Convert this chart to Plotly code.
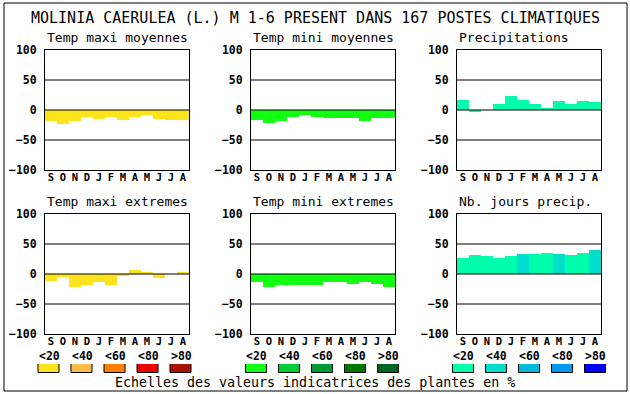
import plotly.graph_objects as go

# ---------------- data ----------------
MONTHS = ["S", "O", "N", "D", "J", "F", "M", "A", "M", "J", "J", "A"]
TITLE = "MOLINIA CAERULEA (L.) M 1-6 PRESENT DANS 167 POSTES CLIMATIQUES"
PANEL_TITLES = ["Temp maxi moyennes", "Temp mini moyennes", "Precipitations",
                "Temp maxi extremes", "Temp mini extremes", "Nb. jours precip."]
tmax_moy = [-18, -23, -18, -12, -15, -12, -16, -12, -9, -15, -16, -16]
tmin_moy = [-16, -21, -18, -11, -8, -11, -13, -14, -13, -18, -14, -14]
precip = [17, -3, 0, 10, 23, 17, 10, 3, 15, 10, 15, 13]
tmax_ext = [-11, -5, -21, -18, -13, -18, -2, 7, 2, -6, 0, 2]
tmin_ext = [-14, -21, -18, -18, -18, -18, -13, -14, -16, -14, -16, -21]
jours_precip = [27, 32, 30, 27, 30, 33, 33, 35, 33, 32, 35, 40]
# class (0: <20, 1: <40, ...) of each month bar
cls_tmax_moy = [0] * 12
cls_tmin_moy = [0] * 12
cls_precip = [0] * 12
cls_tmax_ext = [0] * 12
cls_tmin_ext = [0] * 12
cls_jours_precip = [0, 0, 0, 0, 0, 1, 0, 0, 1, 0, 0, 1]

LEGEND_LABELS = ["<20", "<40", "<60", "<80", ">80"]
PAL_TMAX = ["#FCE31B", "#FFBB4B", "#FF7F00", "#EE0000", "#AA1100"]
PAL_TMIN = ["#11FF11", "#00CC33", "#009933", "#007700", "#006622"]
PAL_PREC = ["#00FFAA", "#00DDCC", "#00BBDD", "#0099EE", "#0000FF"]
Y_TICKS = [-100, -50, 0, 50, 100]
GRID_VALUES = [-50, 0, 50]
FOOTER = "Echelles des valeurs indicatrices des plantes en %"

panels = [
    (tmax_moy, cls_tmax_moy, PAL_TMAX),
    (tmin_moy, cls_tmin_moy, PAL_TMIN),
    (precip, cls_precip, PAL_PREC),
    (tmax_ext, cls_tmax_ext, PAL_TMAX),
    (tmin_ext, cls_tmin_ext, PAL_TMIN),
    (jours_precip, cls_jours_precip, PAL_PREC),
]
palettes = [PAL_TMAX, PAL_TMIN, PAL_PREC]

# ---------------- layout geometry (pixels) ----------------
W, H = 630, 394
COLS = [(45, 189), (251, 395), (457, 601)]
ROWS = [(50, 170), (214, 334)]
LEG_X = [(32.5, 197.5), (240, 405), (447, 612)]
LEG_Y = (364, 373)
LEG_LABEL_Y = 356


def fx(p):
    return p / W


def fy(p):
    return 1 - p / H


MONO = "DejaVu Sans Mono"
BOLD = dict(family=MONO, size=11.5, color="black", weight="bold")
fig = go.Figure()
layout = dict(width=W, height=H, margin=dict(l=0, r=0, t=0, b=0, pad=0, autoexpand=False),
              paper_bgcolor="white", plot_bgcolor="white",
              bargap=0, showlegend=False, shapes=[], annotations=[])

for i, (vals, cls, pal) in enumerate(panels):
    n = i + 1
    r, c = divmod(i, 3)
    xa = "x" if n == 1 else f"x{n}"
    ya = "y" if n == 1 else f"y{n}"
    fig.add_trace(go.Bar(x=list(range(12)), y=vals, width=1,
                         marker=dict(color=[pal[k] for k in cls], line=dict(width=0)),
                         xaxis=xa, yaxis=ya, hoverinfo="skip"))
    layout[f"xaxis{'' if n == 1 else n}"] = dict(
        domain=[fx(COLS[c][0]), fx(COLS[c][1])], anchor=ya, range=[-0.5, 11.5],
        tickvals=list(range(12)), ticktext=MONTHS, showgrid=False, zeroline=False,
        showline=True, mirror=True, linecolor="black", linewidth=1,
        ticks="", ticklen=0, automargin=False,
        tickfont=dict(family=MONO, size=10.5, color="black", weight="bold"),
        ticklabelstandoff=-3, fixedrange=True)
    layout[f"yaxis{'' if n == 1 else n}"] = dict(
        domain=[fy(ROWS[r][1]), fy(ROWS[r][0])], anchor=xa, range=[-100, 100],
        tickvals=Y_TICKS, showgrid=False, zeroline=False, automargin=False,
        showline=True, mirror=True, linecolor="black", linewidth=1, ticks="",
        tickfont=BOLD, ticklabelstandoff=5, fixedrange=True)
    for v in GRID_VALUES:
        layout["shapes"].append(dict(type="line", xref=f"{xa} domain", yref=ya,
                                     x0=0, x1=1, y0=v, y1=v, layer="above",
                                     line=dict(color="black", width=1)))
    layout["annotations"].append(dict(
        text=PANEL_TITLES[i], xref="paper", yref="paper",
        x=fx(COLS[c][0]), y=fy(ROWS[r][0] - 13), xanchor="left", yanchor="middle",
        showarrow=False, font=dict(family=MONO, size=13, color="black")))

# legend colour keys
for g, pal in enumerate(palettes):
    n = 7 + g
    fig.add_trace(go.Bar(x=list(range(5)), y=[1] * 5, width=0.61,
                         marker=dict(color=pal, line=dict(color="black", width=1)),
                         xaxis=f"x{n}", yaxis=f"y{n}", hoverinfo="skip", cliponaxis=False))
    layout[f"xaxis{n}"] = dict(
        domain=[fx(LEG_X[g][0]), fx(LEG_X[g][1])], anchor=f"y{n}", range=[-0.5, 4.5],
        visible=False, fixedrange=True)
    layout[f"yaxis{n}"] = dict(domain=[fy(LEG_Y[1]), fy(LEG_Y[0])], anchor=f"x{n}",
                               range=[0, 1], visible=False, fixedrange=True)
    for k, lab in enumerate(LEGEND_LABELS):
        layout["annotations"].append(dict(
            text=lab, xref=f"x{n}", yref="paper", x=k, y=fy(LEG_LABEL_Y),
            xanchor="center", yanchor="middle", showarrow=False, font=BOLD))

layout["annotations"].append(dict(
    text=TITLE, xref="paper", yref="paper", x=0.5, y=fy(18), xanchor="center",
    yanchor="middle", showarrow=False, font=dict(family=MONO, size=15, color="black")))
layout["annotations"].append(dict(
    text=FOOTER, xref="paper", yref="paper", x=0.5, y=fy(382), xanchor="center",
    yanchor="middle", showarrow=False, font=dict(family=MONO, size=13.3, color="black")))
layout["shapes"].append(dict(type="rect", xref="paper", yref="paper",
                             x0=fx(4), x1=fx(627), y0=fy(391), y1=fy(3),
                             line=dict(color="black", width=1), layer="below"))

fig.update_layout(**layout)
fig.write_html("out.html", config={"displayModeBar": False},
               post_script="document.documentElement.style.overflow='hidden';"
                           "document.body.style.margin='0';document.body.style.overflow='hidden';")
